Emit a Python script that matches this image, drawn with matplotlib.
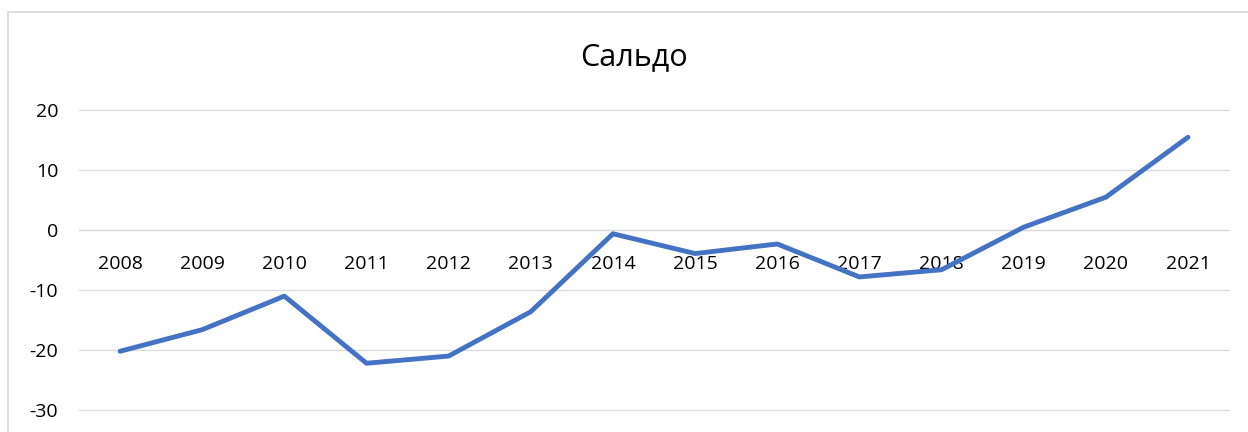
import matplotlib
matplotlib.use("Agg")
import matplotlib.pyplot as plt
from matplotlib.patches import Rectangle

years = ["2008", "2009", "2010", "2011", "2012", "2013", "2014",
         "2015", "2016", "2017", "2018", "2019", "2020", "2021"]
saldo = [-20.2, -16.6, -11.0, -22.2, -21.0, -13.6, -0.6,
         -3.9, -2.3, -7.8, -6.6, 0.5, 5.5, 15.5]
y_ticks = [-30, -20, -10, 0, 10, 20]

plt.rcParams["font.family"] = ["Open Sans", "DejaVu Sans"]

fig = plt.figure(figsize=(12.48, 4.32), dpi=100)
ax = fig.add_axes([0.0633, 0.0509, 0.9215, 0.6938])

x = list(range(len(years)))
ax.plot(x, saldo, color="#4472C4", linewidth=3.5,
        solid_capstyle="round", solid_joinstyle="round", zorder=3)

ax.set_xlim(-0.5, len(years) - 0.5)
ax.set_ylim(-30, 20)
ax.set_yticks(y_ticks)
ax.set_yticklabels([str(v) for v in y_ticks])
ax.set_xticks(x)
ax.set_xticklabels(years)

ax.grid(axis="y", color="#d9d9d9", linewidth=0.9)
for gl in ax.get_ygridlines():
    gl.set_clip_on(False)
ax.set_axisbelow(True)
for side in ["top", "right", "left"]:
    ax.spines[side].set_visible(False)
ax.spines["bottom"].set_position(("data", 0))
ax.spines["bottom"].set_color("#d9d9d9")
ax.spines["bottom"].set_linewidth(0.9)

ax.tick_params(axis="x", length=0, pad=18, labelsize=14, colors="#000000")
ax.tick_params(axis="y", length=0, pad=15, labelsize=14, colors="#000000")

fig.text(0.508, 0.868, "Сальдо", ha="center", va="center", fontsize=22)

# chart frame
fig.patches.append(Rectangle((8 / 1248, -0.1), 1.2, 1 - 11.5 / 432 + 0.1,
                             transform=fig.transFigure, fill=False,
                             edgecolor="#d9d9d9", linewidth=1.2))

fig.savefig("out.png", dpi=100)
